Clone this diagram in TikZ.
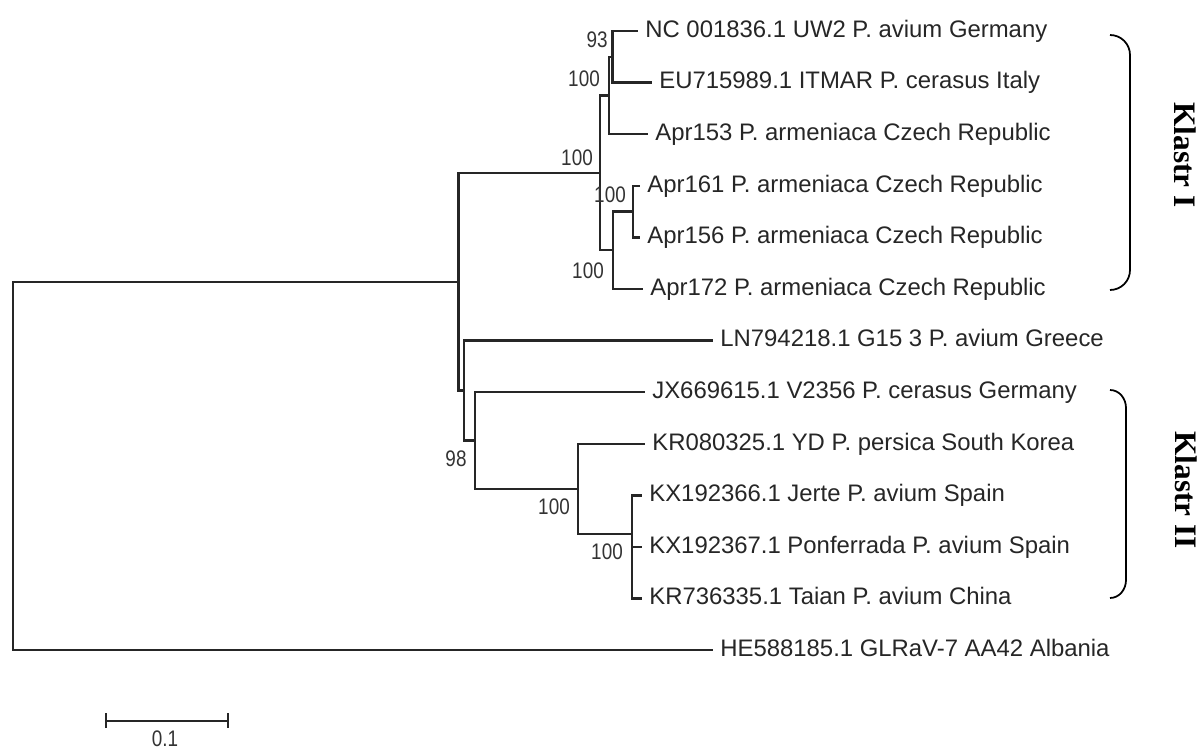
\documentclass[tikz,border=0pt]{standalone}
\usepackage{fontspec}
\usepackage{graphicx}
\setmainfont{Liberation Sans}
\newfontfamily\klfont{Liberation Serif}
\usetikzlibrary{arrows.meta,positioning}
\newcommand{\bsval}[1]{\scalebox{0.84}[1]{#1}}
\tikzset{
  branch/.style={line width=1.3pt,black!85},
  leaflab/.style={anchor=base west,inner sep=0pt,xshift=0.14cm,yshift=-0.126cm,font=\fontsize{13.6}{16}\selectfont,text=black!85},
  bootlab/.style={inner sep=0pt,font=\fontsize{12.8}{15}\selectfont,text=black!80},
  clbrace/.style={line width=1pt,black},
  cllab/.style={rotate=-90,inner sep=0pt,font=\klfont\bfseries\fontsize{17.8}{20}\selectfont},
}

\begin{document}
\begin{tikzpicture}[x=0.02cm,y=-0.02cm]
  \useasboundingbox (0,0) rectangle (1200,749);
  % leaves
  \coordinate (lNC) at (638,31.0);
  \coordinate (lEU) at (652,82.6);
  \coordinate (lA153) at (648,134.2);
  \coordinate (lA161) at (640,185.8);
  \coordinate (lA156) at (640,237.4);
  \coordinate (lA172) at (643,289.0);
  \coordinate (lLN) at (713,340.6);
  \coordinate (lJX) at (645,392.2);
  \coordinate (lKR0) at (645,443.8);
  \coordinate (lKX6) at (642,495.4);
  \coordinate (lKX7) at (642,547.0);
  \coordinate (lKR7) at (642,598.6);
  \coordinate (lHE) at (713,650.2);
  % inner nodes
  \coordinate (nNE) at (612.5,56.8);
  \coordinate (nN3) at (609,95.5);
  \coordinate (nA2) at (632.7,211.6);
  \coordinate (nA3) at (613.3,250.3);
  \coordinate (nK1) at (600.3,172.9);
  \coordinate (nE) at (632.3,534.1);
  \coordinate (nD) at (578.3,489.0);
  \coordinate (nC) at (475,440.6);
  \coordinate (nB) at (464.3,390.6);
  \coordinate (nTop) at (458.5,281.75);
  \coordinate (nRoot) at (13.3,466);
  % branches
  \draw[branch] (nRoot) |- (nTop);
  \draw[branch] (nRoot) |- (lHE);
  \draw[branch] (nTop) |- (nK1);
  \draw[branch] (nTop) |- (nB);
  \draw[branch] (nK1) |- (nN3);
  \draw[branch] (nK1) |- (nA3);
  \draw[branch] (nN3) |- (nNE);
  \draw[branch] (nN3) |- (lA153);
  \draw[branch] (nNE) |- (lNC);
  \draw[branch] (nNE) |- (lEU);
  \draw[branch] (nA3) |- (nA2);
  \draw[branch] (nA3) |- (lA172);
  \draw[branch] (nA2) |- (lA161);
  \draw[branch] (nA2) |- (lA156);
  \draw[branch] (nB) |- (lLN);
  \draw[branch] (nB) |- (nC);
  \draw[branch] (nC) |- (lJX);
  \draw[branch] (nC) |- (nD);
  \draw[branch] (nD) |- (lKR0);
  \draw[branch] (nD) |- (nE);
  \draw[branch] (nE) |- (lKX6);
  \draw[branch] (nE) |- (lKX7);
  \draw[branch] (nE) |- (lKR7);
  % taxon names
  \node[leaflab] (tNC) at (lNC) {NC 001836.1 UW2 P. avium Germany};
  \node[leaflab] (tEU) at (lEU) {EU715989.1 ITMAR P. cerasus Italy};
  \node[leaflab] (tA153) at (lA153) {Apr153 P. armeniaca Czech Republic};
  \node[leaflab] (tA161) at (lA161) {Apr161 P. armeniaca Czech Republic};
  \node[leaflab] (tA156) at (lA156) {Apr156 P. armeniaca Czech Republic};
  \node[leaflab] (tA172) at (lA172) {Apr172 P. armeniaca Czech Republic};
  \node[leaflab] (tLN) at (lLN) {LN794218.1 G15 3 P. avium Greece};
  \node[leaflab] (tJX) at (lJX) {JX669615.1 V2356 P. cerasus Germany};
  \node[leaflab] (tKR0) at (lKR0) {KR080325.1 YD P. persica South Korea};
  \node[leaflab] (tKX6) at (lKX6) {KX192366.1 Jerte P. avium Spain};
  \node[leaflab] (tKX7) at (lKX7) {KX192367.1 Ponferrada P. avium Spain};
  \node[leaflab] (tKR7) at (lKR7) {KR736335.1 Taian P. avium China};
  \node[leaflab] (tHE) at (lHE) {HE588185.1 GLRaV-7 AA42 Albania};
  % bootstrap values
  \node[bootlab] (bNE) at (597,40) {\bsval{93}};
  \node[bootlab] (bN3) at (584,79) {\bsval{100}};
  \node[bootlab] (bK1) at (577,158) {\bsval{100}};
  \node[bootlab] (bA2) at (610,195) {\bsval{100}};
  \node[bootlab] (bA3) at (588,271) {\bsval{100}};
  \node[bootlab] (bC) at (456,459) {\bsval{98}};
  \node[bootlab] (bD) at (554,507) {\bsval{100}};
  \node[bootlab] (bE) at (607,552) {\bsval{100}};
  % scale bar
  \coordinate (sbL) at (105,720.7);
  \coordinate (sbR) at (229.3,720.7);
  \draw[branch,{Bar[width=0.3cm]}-{Bar[width=0.3cm]}] (sbL) -- (sbR);
  \node[bootlab] (sbT) at (165,739) {\bsval{0.1}};
  % clusters
  \draw[clbrace] (1110,35) to[out=0,in=90] (1130,55) -- (1130,270) to[out=-90,in=0] (1110,290);
  \draw[clbrace] (1110,390) to[out=0,in=90] (1126,408) -- (1126,580) to[out=-90,in=0] (1110,598);
  \node[cllab] (kl1) at (1185,155) {Klastr I};
  \node[cllab] (kl2) at (1186,490) {Klastr II};
\end{tikzpicture}
\end{document}
